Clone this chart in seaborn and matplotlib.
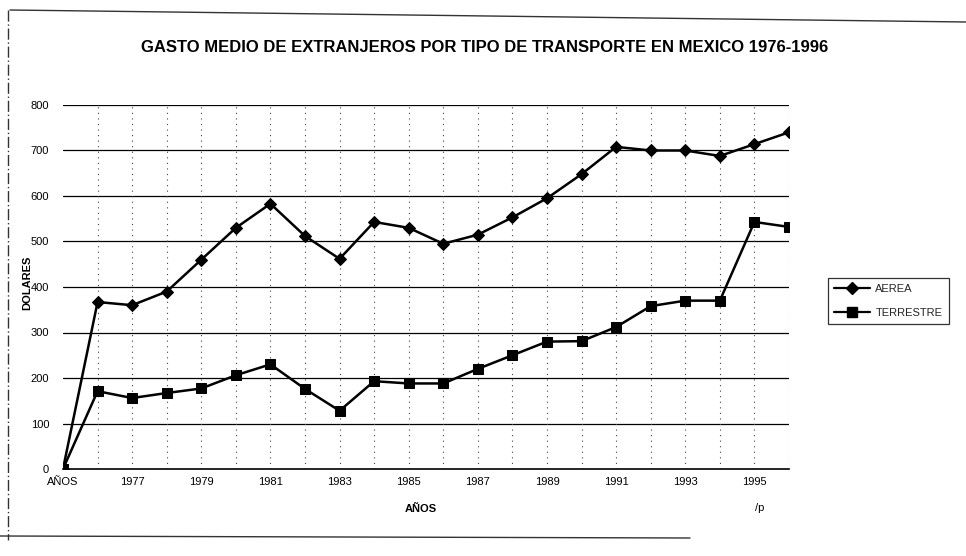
import pandas as pd
import numpy as np
import seaborn as sns
from matplotlib import pyplot as plt
from matplotlib.lines import Line2D

sns.set_theme(style='white')
plt.rcParams['font.family'] = ['Liberation Sans', 'DejaVu Sans']

# datos (la primera categoria es el encabezado "AÑOS" con valor 0)
categorias = ['AÑOS', '1976', '1977', '1978', '1979', '1980', '1981', '1982', '1983',
              '1984', '1985', '1986', '1987', '1988', '1989', '1990', '1991', '1992',
              '1993', '1994', '1995', '1996']
aerea = [0, 367, 360, 390, 460, 530, 583, 512, 462, 543, 530, 495, 515, 553, 595,
         648, 708, 700, 700, 688, 714, 740]
terrestre = [0, 171, 156, 167, 177, 206, 230, 176, 128, 193, 188, 188, 220, 250, 280,
             281, 312, 358, 370, 370, 543, 532]
etiquetas_x = ['AÑOS', '1977', '1979', '1981', '1983', '1985', '1987', '1989',
               '1991', '1993', '1995']
series = ['AEREA', 'TERRESTRE']

df = pd.DataFrame({'anio': categorias * 2,
                   'gasto': aerea + terrestre,
                   'tipo': [series[0]] * len(aerea) + [series[1]] * len(terrestre)})

fig = plt.figure(figsize=(9.66, 5.56), dpi=100)
ax = fig.add_axes([63/966, 1-469/556, (789-63)/966, (469-105)/556])

sns.lineplot(data=df, x='anio', y='gasto', hue='tipo', style='tipo',
             markers={'AEREA': 'D', 'TERRESTRE': 's'}, dashes=False,
             palette={'AEREA': 'black', 'TERRESTRE': 'black'},
             sort=False, linewidth=1.8, markersize=6.5, markeredgecolor='black',
             ax=ax, legend=False)

ax.set_xlim(0, len(categorias) - 1)
ax.set_ylim(0, 800)
ax.set_yticks(range(0, 801, 100))
ax.set_xticks([categorias.index(e) for e in etiquetas_x])
ax.set_xticklabels(etiquetas_x)

# lineas de cuadricula: horizontales continuas, verticales punteadas
for v in range(100, 801, 100):
    ax.axhline(v, color='black', lw=0.9, zorder=0)
for i in range(1, len(categorias)):
    ax.axvline(i, color='#444444', lw=0.8, ls=(0, (1, 4)), zorder=0)

for s in ['top', 'right', 'left']:
    ax.spines[s].set_visible(False)
ax.spines['bottom'].set_color('black')
ax.spines['bottom'].set_linewidth(1.2)

ax.tick_params(axis='both', length=0, labelsize=8, colors='black')
ax.tick_params(axis='y', pad=10)
ax.tick_params(axis='x', pad=6)
ax.set_xlabel('')
ax.set_ylabel('')

fig.text(485/966, 1-47/556, 'GASTO MEDIO DE EXTRANJEROS POR TIPO DE TRANSPORTE EN MEXICO 1976-1996',
         ha='center', va='center', fontsize=12, fontweight='bold', color='black')
fig.text(421/966, 1-509/556, 'AÑOS', ha='center', va='center', fontsize=8,
         fontweight='bold', color='black')
fig.text(760/966, 1-508/556, '/p', ha='center', va='center', fontsize=8, color='black')
fig.text(27/966, 1-283/556, 'DOLARES', ha='center', va='center', rotation=90,
         fontsize=8, fontweight='bold', color='black')

# leyenda
h = [Line2D([], [], color='black', lw=1.6, marker='D', markersize=6),
     Line2D([], [], color='black', lw=1.6, marker='s', markersize=6.5)]
leg = fig.legend(h, series, loc='upper left', bbox_to_anchor=(822/966, 1-272/556),
                 frameon=True, fancybox=False, fontsize=8, handlelength=3.2,
                 labelspacing=1.2, borderpad=0.6, handletextpad=0.5)
leg.get_frame().set_edgecolor('black')
leg.get_frame().set_linewidth(0.9)

# marco exterior del grafico
fig.add_artist(Line2D([8/966, 8/966], [1-10/556, 1-540/556], color='#333333', lw=1.0,
                      ls=(0, (8, 2, 1, 2))))
fig.add_artist(Line2D([10/966, 1.0], [1-10/556, 1-22/556], color='#333333', lw=1.0))
fig.add_artist(Line2D([0, 690/966], [1-536/556, 1-538/556], color='#333333', lw=1.0))

fig.savefig('out.png', dpi=100, facecolor='white')
